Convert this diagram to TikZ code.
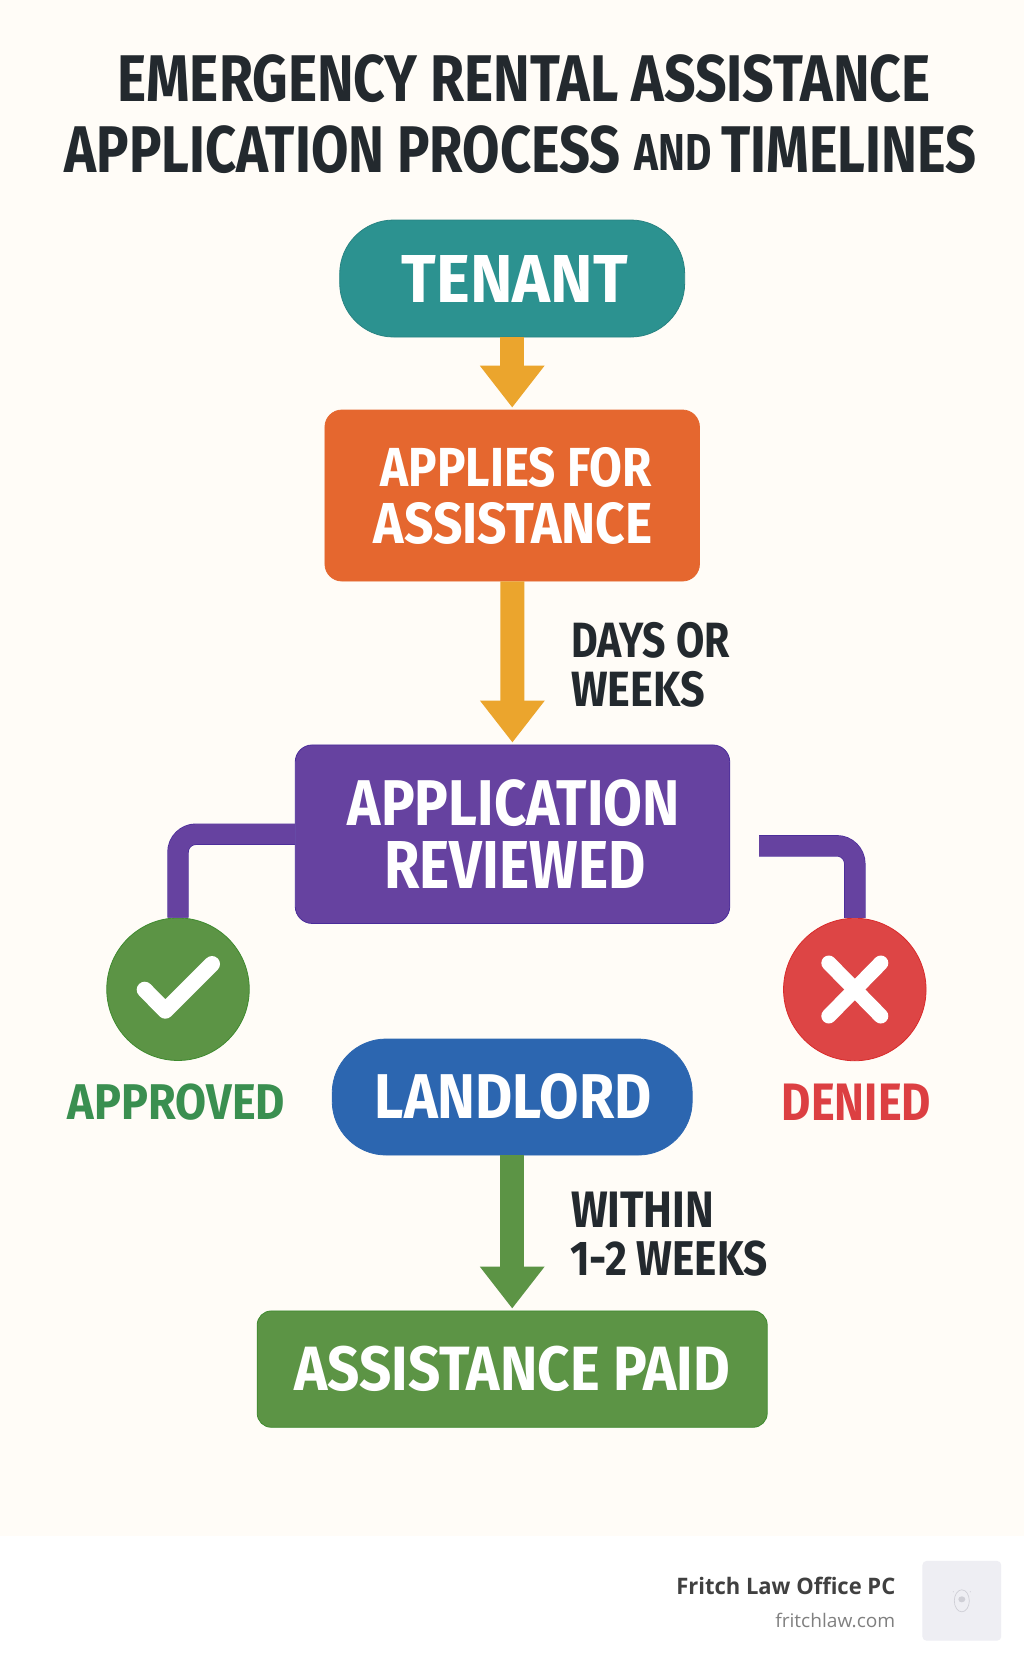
\documentclass[tikz,border=0pt]{standalone}
\usepackage{fontspec}
\usepackage{graphicx}
\setmainfont{Fira Sans}
\newfontfamily\footfont{Open Sans}
\usetikzlibrary{arrows.meta}
\definecolor{bgcream}{HTML}{FFFCF7}
\definecolor{inkdark}{HTML}{23292E}
\definecolor{teal1}{HTML}{2C9290}
\definecolor{orange1}{HTML}{E5672F}
\definecolor{purple1}{HTML}{6642A0}
\definecolor{purpleedge}{HTML}{4A2C9A}
\definecolor{green1}{HTML}{5C9445}
\definecolor{greenedge}{HTML}{3E8A2E}
\definecolor{red1}{HTML}{DD4545}
\definecolor{rededge}{HTML}{D92B2B}
\definecolor{blue1}{HTML}{2C66B0}
\definecolor{amber1}{HTML}{EBA52D}
\definecolor{txtgreen}{HTML}{3A8F50}
\definecolor{txtred}{HTML}{DC3F42}
\definecolor{greybox}{HTML}{EEEEF3}
\definecolor{logoline}{HTML}{CFCFD6}
% fit text to width x height in picture units
\newcommand{\fitt}[3]{\resizebox*{#1pt}{#2pt}{\bfseries #3}}
\newcommand{\twol}[3]{\vbox{\offinterlineskip\halign{\hfil##\hfil\cr#1\cr\noalign{\vskip#3pt}#2\cr}}}
\tikzset{
  x=1pt,y=-1pt,
  flowbox/.style={rectangle,inner sep=0pt,text=white,line width=0.8pt},
  pill/.style={flowbox,rounded corners=54pt},
  card/.style={flowbox,rounded corners=17pt},
  roundmark/.style={circle,inner sep=0pt,minimum size=142.5pt,line width=0.8pt},
  flowarrow/.style={line width=24pt,-{Triangle[length=42pt,width=62pt]},shorten >=2pt},
  elbow/.style={draw=purpleedge,line width=0.7pt,double=purple1,double distance=20pt,rounded corners=18pt},
  markstroke/.style={white,line cap=round,line join=round},
  caption/.style={inner sep=0pt,text=inkdark,anchor=north west},
}
\begin{document}
\begin{tikzpicture}
\useasboundingbox (0,0) rectangle (1024,1666);
\fill[white] (0,0) rectangle (1024,1666);
\fill[bgcream] (0,0) rectangle (1024,1536);
\node[inner sep=0pt,text=inkdark] (title) at (520.5,114.5) {\twol
  {\kern7pt\fitt{813}{48}{EMERGENCY RENTAL ASSISTANCE}}
  {\fitt{556}{48}{APPLICATION PROCESS}\kern14pt\raisebox{2pt}{\fitt{77}{36}{AND}}\kern9.5pt\fitt{255}{48}{TIMELINES}}{23}};
\node[pill,fill=teal1,draw=teal1!90!black,minimum width=345pt,minimum height=117pt] (tenant) at (512.2,278.5) {\kern5pt\fitt{226}{47}{TENANT}};
\node[card,fill=orange1,draw=orange1,minimum width=374.5pt,minimum height=171pt] (applies) at (512.2,495.5) {\twol{\kern8pt\fitt{271}{40}{APPLIES FOR}}{\kern2pt\fitt{279}{42}{ASSISTANCE}}{15}};
\node[card,fill=purple1,draw=purpleedge,minimum width=434.5pt,minimum height=178.5pt] (reviewed) at (512.5,834.2) {\twol{\kern3pt\fitt{332}{47}{APPLICATION}}{\kern5pt\fitt{261}{47}{REVIEWED}}{15}};
\node[roundmark,fill=green1,draw=greenedge] (ok) at (178,989.2) {};
\node[roundmark,fill=red1,draw=rededge] (no) at (854.8,989.5) {};
\node[inner sep=0pt,text=txtgreen] (approved) at (176.5,1102) {\fitt{217}{36.5}{APPROVED}};
\node[inner sep=0pt,text=txtred] (denied) at (856.5,1102) {\fitt{149}{36.5}{DENIED}};
\node[pill,fill=blue1,draw=blue1,minimum width=360pt,minimum height=116pt] (landlord) at (512.2,1097) {\kern2pt\fitt{277}{46}{LANDLORD}};
\node[card,fill=green1,draw=greenedge,minimum width=510pt,minimum height=116.3pt,rounded corners=14pt] (paid) at (512.2,1369.1) {\fitt{436}{45.5}{ASSISTANCE PAID}};
\node[caption] (days) at (571,622) {\fitt{158.5}{36}{DAYS OR}};
\node[caption] (weeks) at (571,671) {\fitt{133.5}{36}{WEEKS}};
\node[caption] (within) at (571,1191.7) {\fitt{143}{35.5}{WITHIN}};
\node[caption] (oneto) at (570,1240.7) {\fitt{197.5}{35.5}{1-2 WEEKS}};
\draw[flowarrow,amber1] (tenant) -- (applies);
\draw[flowarrow,amber1] (applies) -- (reviewed);
\draw[flowarrow,green1] (landlord) -- (paid);
\draw[elbow] (reviewed.west) -| (ok.north);
\coordinate (rstart) at (759,845.8);
\draw[elbow] (rstart) -| (no.north);
\draw[markstroke,line width=16pt] ([shift={(-33.3,0.5)}]ok.center) -- ([shift={(-12.7,21.5)}]ok.center) -- ([shift={(34,-25.2)}]ok.center);
\draw[markstroke,line width=15pt] ([shift={(-26,-26.5)}]no.center) -- ([shift={(26,26.5)}]no.center);
\draw[markstroke,line width=15pt] ([shift={(26,-26.5)}]no.center) -- ([shift={(-26,26.5)}]no.center);
\node[inner sep=0pt,text=black!75,anchor=north east] (firm) at (895.5,1576.7) {\footfont\resizebox*{219pt}{17.6pt}{\bfseries Fritch Law Office PC}};
\node[inner sep=0pt,text=black!50,anchor=north east] (web) at (895.5,1612.7) {\footfont\resizebox*{120pt}{14.6pt}{fritchlaw.com}};
\node[rectangle,rounded corners=4pt,fill=greybox,minimum width=78.7pt,minimum height=79.7pt] (logo) at (961.8,1600.8) {};
\draw[logoline,line width=0.7pt] ([shift={(0,0)}]logo.center) ellipse (7.5pt and 11pt);
\fill[logoline] ([shift={(0,-1.5)}]logo.center) ellipse (3.5pt and 3pt);
\fill[logoline] ([shift={(-8.5,-9)}]logo.center) circle (0.6pt);
\fill[logoline] ([shift={(8.5,-9)}]logo.center) circle (0.6pt);
\end{tikzpicture}
\end{document}
